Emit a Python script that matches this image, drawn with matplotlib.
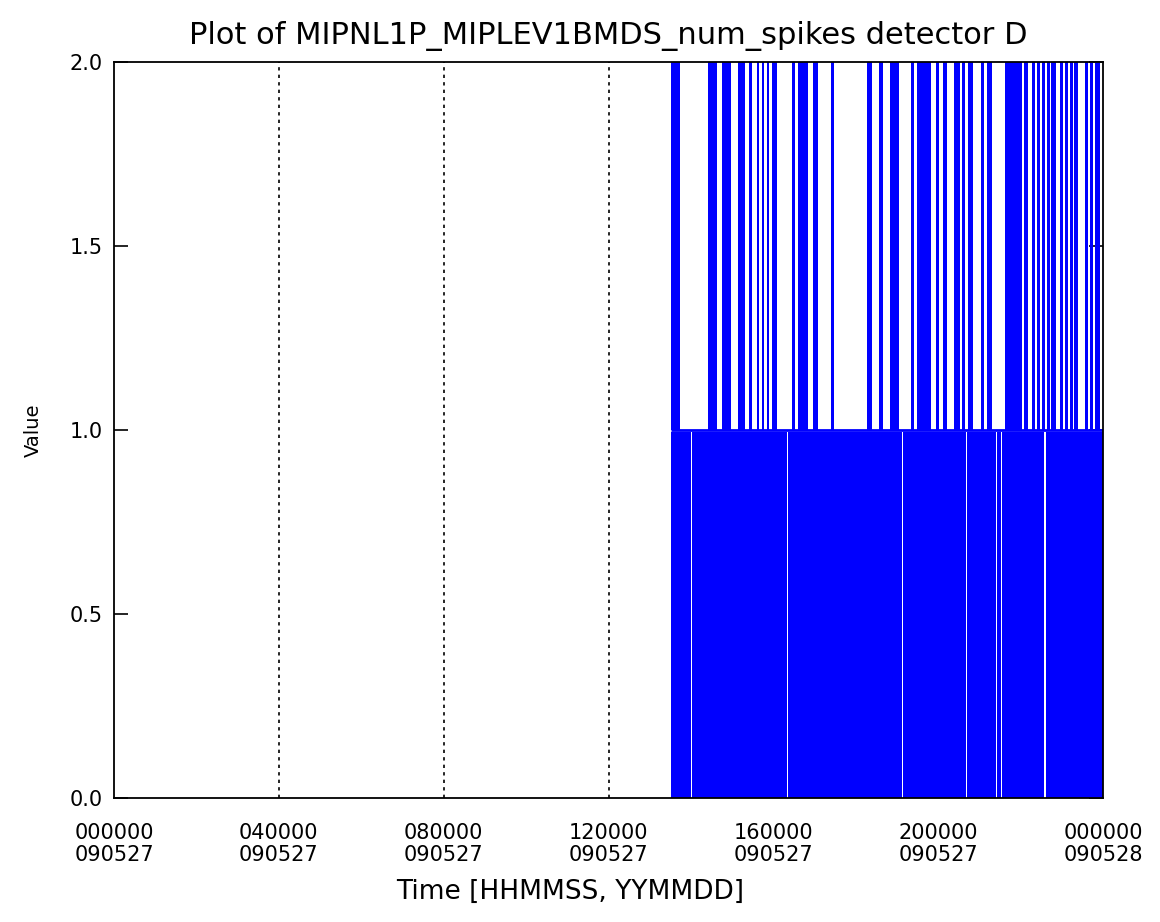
import matplotlib
matplotlib.use("Agg")
import matplotlib.pyplot as plt

# time axis in hours of 2009-05-27 (0 = 000000 090527, 24 = 000000 090528)
data_start = 13.52
data_end = 24.0

# short stretches where the count stayed >= 1 (thin white gaps in the 0..1 band)
low_gaps = [14.00, 16.33, 19.12, 20.67, 21.40, 21.52, 22.57]
gap_width = 0.035

# stretches where num_spikes reached 2
high_starts = [13.52, 14.41, 14.75, 15.14, 15.41, 15.60, 15.72, 15.85, 15.97,
               16.45, 16.60, 16.96, 17.40, 18.27, 18.56, 18.83, 19.34, 19.49,
               19.95, 20.12, 20.38, 20.58, 20.72, 21.04, 21.18, 21.62, 22.08,
               22.28, 22.40, 22.52, 22.64, 22.74, 22.96, 23.08, 23.20, 23.30,
               23.56, 23.68, 23.80]
high_ends = [13.73, 14.63, 14.97, 15.31, 15.48, 15.65, 15.77, 15.89, 16.09,
             16.53, 16.84, 17.08, 17.47, 18.39, 18.66, 19.05, 19.41, 19.83,
             20.03, 20.21, 20.53, 20.65, 20.84, 21.11, 21.31, 22.03, 22.18,
             22.35, 22.47, 22.59, 22.71, 22.86, 23.03, 23.15, 23.27, 23.39,
             23.63, 23.76, 23.93]

x_ticks = [0, 4, 8, 12, 16, 20, 24]
x_tick_labels = ["000000\n090527", "040000\n090527", "080000\n090527",
                 "120000\n090527", "160000\n090527", "200000\n090527",
                 "000000\n090528"]
y_ticks = [0.0, 0.5, 1.0, 1.5, 2.0]
y_tick_labels = ["0.0", "0.5", "1.0", "1.5", "2.0"]

plt.rcParams["font.family"] = ["DejaVu Sans"]

fig = plt.figure(figsize=(11.6, 9.22), dpi=100)
ax = fig.add_axes([114 / 1160, 1 - 798 / 922, 989 / 1160, 736 / 922])

# dotted grid lines at the time ticks (under the data, like IDL)
ax.vlines(x_ticks[1:-1], 0, 2, colors="black", linestyles=(0, (2, 2.5)), linewidth=1.2, zorder=1)

# 0..1 band: filled except where the count never dropped to zero
edges = [data_start] + [g for g in low_gaps] + [data_end]
low_segments = []
for i in range(len(edges) - 1):
    left = edges[i] if i == 0 else edges[i] + gap_width
    low_segments.append((left, edges[i + 1] - left))
ax.broken_barh(low_segments, (0, 0.995), facecolors="#0000ff", edgecolor="none", zorder=2)
ax.hlines(1.0, data_start, data_end, colors="#0000ff", linewidth=2.0, zorder=2)

# 1..2 band: spikes up to 2
high_segments = [(s, e - s) for s, e in zip(high_starts, high_ends)]
ax.broken_barh(high_segments, (1, 1), facecolors="#0000ff", edgecolor="none", zorder=2)

ax.set_xlim(0, 24)
ax.set_ylim(0, 2)
ax.set_xticks(x_ticks, x_tick_labels, fontsize=15, linespacing=1.1)
ax.set_yticks(y_ticks, y_tick_labels, fontsize=15)
ax.tick_params(axis="x", length=0, pad=18)
ax.tick_params(axis="y", direction="in", length=10, width=1.2, right=True, pad=8)

for sp in ax.spines.values():
    sp.set_linewidth(1.3)
    sp.set_zorder(3)

ax.set_title("Plot of MIPNL1P_MIPLEV1BMDS_num_spikes detector D", fontsize=22, pad=13)
ax.set_xlabel("Time [HHMMSS, YYMMDD]", fontsize=19)
ax.xaxis.set_label_coords((570 - 114) / 989, -0.11)
ax.set_ylabel("Value", fontsize=14)
ax.yaxis.set_label_coords(-0.072, 0.5)

fig.savefig("out.png", dpi=100)
